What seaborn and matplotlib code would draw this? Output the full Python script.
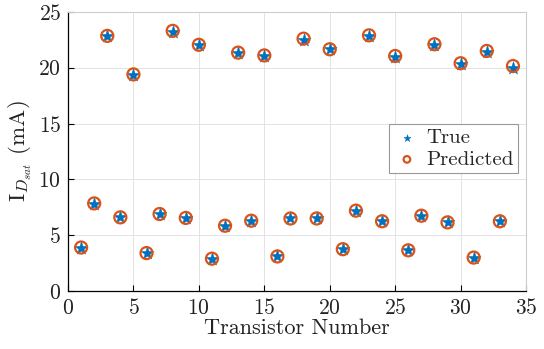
import matplotlib
matplotlib.use("Agg")
import matplotlib.pyplot as plt
import seaborn as sns
import pandas as pd

transistor = list(range(1, 35))
true_vals = [3.9, 7.8, 22.8, 6.6, 19.35, 3.4, 6.9, 23.2, 6.55, 22.0,
             2.9, 5.8, 21.3, 6.3, 21.05, 3.1, 6.5, 22.5, 6.5, 21.7,
             3.75, 7.2, 22.8, 6.3, 21.0, 3.65, 6.75, 22.05, 6.15, 20.35,
             3.0, 21.45, 6.25, 20.0]
pred_vals = [3.9, 7.85, 22.85, 6.6, 19.4, 3.4, 6.9, 23.3, 6.55, 22.05,
             2.9, 5.85, 21.35, 6.3, 21.1, 3.1, 6.5, 22.6, 6.5, 21.65,
             3.75, 7.2, 22.9, 6.25, 21.05, 3.65, 6.75, 22.1, 6.15, 20.4,
             3.0, 21.5, 6.25, 20.15]
y_ticks = [0, 5, 10, 15, 20, 25]
x_ticks = [0, 5, 10, 15, 20, 25, 30, 35]

df = pd.DataFrame({"n": transistor, "true": true_vals, "pred": pred_vals})

sns.set_theme(style="white")
plt.rcParams["font.family"] = ["cmr10", "DejaVu Serif"]
plt.rcParams["mathtext.fontset"] = "cm"
plt.rcParams["axes.formatter.use_mathtext"] = True

fig = plt.figure(figsize=(5.44, 3.49), dpi=100)
ax = fig.add_axes([0.125, 0.166, 0.842, 0.800])

blue = "#0072BD"
orange = "#D95319"

sns.scatterplot(data=df, x="n", y="true", ax=ax, marker="*", s=100,
                color=blue, edgecolor=blue, linewidth=0.3, label="True", zorder=3)
sns.scatterplot(data=df, x="n", y="pred", ax=ax, marker="o", s=75,
                facecolor="none", edgecolor=orange, linewidth=1.6,
                label="Predicted", zorder=4)

ax.set_xlim(0, 35)
ax.set_ylim(0, 25)
ax.set_xticks(x_ticks)
ax.set_yticks(y_ticks)
ax.grid(True, color="#e3e3e3", linewidth=0.7)
ax.set_axisbelow(True)

for side in ["left", "bottom"]:
    ax.spines[side].set_color("black")
    ax.spines[side].set_linewidth(0.9)
for side in ["top", "right"]:
    ax.spines[side].set_color("#cccccc")
    ax.spines[side].set_linewidth(0.8)

ax.tick_params(axis="both", direction="in", length=4, width=0.8,
               labelsize=15.5, colors="black", labelcolor="#222222",
               bottom=True, left=True, top=False, right=False, pad=5)

ax.set_xlabel("Transistor Number", fontsize=16, color="#222222", labelpad=0)
ax.set_ylabel(r"$\mathrm{I}_{D_{sat}}$ (mA)", fontsize=16.5, color="#222222", labelpad=3)

leg = ax.legend(loc="upper right", bbox_to_anchor=(0.983, 0.597),
                borderaxespad=0, fancybox=False, framealpha=1,
                edgecolor="#999999", fontsize=15, handletextpad=0.3,
                markerscale=0.55, borderpad=0.2, labelspacing=0.15,
                handlelength=1.3)
leg.get_frame().set_linewidth(0.8)

fig.savefig("out.png", dpi=100)
